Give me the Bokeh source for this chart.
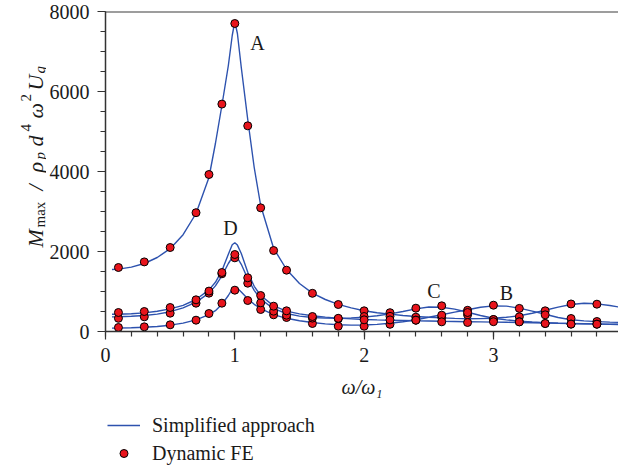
import math
from bokeh.plotting import figure
from bokeh.layouts import row, column
from bokeh.models import Range1d, Legend, LegendItem, Label, FixedTicker, Span
from bokeh.core.properties import value
from bokeh.embed import file_html
from bokeh.resources import INLINE

# ---------------- data ----------------
x_curve = [0.05, 0.1, 0.2, 0.3, 0.4, 0.5, 0.6, 0.7, 0.8, 0.85, 0.9, 0.95, 0.98, 1.0,
           1.02, 1.05, 1.1, 1.15, 1.2, 1.3, 1.4, 1.5, 1.6, 1.7, 1.8, 1.9, 2.0, 2.1, 2.2,
           2.3, 2.4, 2.5, 2.6, 2.7, 2.8, 2.9, 3.0, 3.1, 3.2, 3.3, 3.4, 3.5, 3.6, 3.7,
           3.8, 3.9, 4.0]
curve_A = [1550, 1560, 1610, 1700, 1850, 2070, 2420, 2950, 3850, 4700, 5650, 6650, 7400, 7750,
           7450, 6600, 5300, 4100, 3150, 2080, 1550, 1200, 960, 800, 680, 590, 520, 470, 435,
           400, 375, 355, 340, 328, 320, 322, 332, 355, 395, 455, 530, 610, 675, 705,
           692, 650, 595]
curve_D = [430, 432, 445, 465, 505, 565, 655, 800, 1040, 1230, 1520, 1930, 2170, 2220,
           2160, 1950, 1480, 1130, 900, 640, 510, 440, 395, 360, 335, 315, 300, 290, 282,
           275, 268, 262, 255, 250, 245, 240, 235, 230, 225, 218, 212, 205, 200, 195,
           190, 185, 180]
curve_C = [365, 368, 380, 400, 435, 495, 590, 735, 960, 1140, 1390, 1700, 1850, 1880,
           1840, 1680, 1320, 1030, 810, 570, 450, 385, 350, 335, 330, 338, 360, 395, 440,
           500, 565, 612, 606, 560, 480, 400, 330, 290, 260, 238, 222, 210, 200, 192,
           185, 178, 172]
curve_B = [85, 88, 95, 105, 125, 158, 210, 290, 420, 520, 680, 900, 1060, 1110,
           1080, 990, 820, 680, 570, 420, 330, 270, 225, 190, 170, 160, 162, 178, 205,
           245, 295, 355, 420, 485, 545, 605, 640, 635, 585, 510, 430, 350, 295, 265,
           248, 235, 225]

x_fe = [0.1, 0.3, 0.5, 0.7, 0.8, 0.9, 1.0, 1.1, 1.2, 1.3, 1.4, 1.6, 1.8, 2.0, 2.2, 2.4,
        2.6, 2.8, 3.0, 3.2, 3.4, 3.6, 3.8]
fe_A = [1600, 1740, 2100, 2970, 3925, 5685, 7700, 5142, 3092, 2025, 1533, 955, 675, 517,
        470, 358, 355, 417, 300, 367, 517, 688, 683]
fe_D = [475, 500, 600, 792, 1010, 1475, 1925, 1342, 900, 633, 517, 375, 330, 292,
        290, 283, 242, 225, 245, 240, 200, 185, 183]
fe_C = [330, 367, 458, 708, 958, 1442, 1842, 1208, 717, 508, 408, 335, 318, 375,
        380, 583, 642, 475, 300, 245, 200, 185, 183]
fe_B = [100, 117, 167, 283, 450, 708, 1033, 775, 550, 417, 350, 200, 133, 133,
        180, 283, 408, 530, 658, 578, 417, 325, 250]

curve_names = ["A", "B", "C", "D"]
name_x = [1.175, 3.10, 2.54, 0.967]
name_y = [7217, 975, 1017, 2592]

x_ticks = [0, 1, 2, 3, 4]
y_ticks = [0, 2000, 4000, 6000, 8000]
x_label = "ω/ω₁"
legend_labels = ["Simplified approach", "Dynamic FE"]

# y-axis label pieces: text, size, style, baseline shift (px), start position (px from top)
y_label_parts = [
    ("M", "22px", "italic", 0, 247),
    ("max", "15px", "normal", 4, 227),
    ("/", "22px", "italic", 0, 190),
    ("ρ", "22px", "italic", 0, 172),
    ("p", "15px", "italic", 4, 159),
    ("d", "22px", "italic", 0, 146),
    ("4", "15px", "normal", -10, 131),
    ("ω", "22px", "italic", 0, 118),
    ("2", "15px", "normal", -10, 101),
    ("U", "22px", "italic", 0, 90),
    ("g", "15px", "italic", 4, 73),
]

# ---------------- styling ----------------
SERIF = "Liberation Serif"
LINE_COL = "#2d52ae"
DOT_COL = "#e8141c"
AX_COL = "#333333"
TXT_COL = "#1a1a1a"
LAB_W = 46
TOP_H = 405
LEG_H = 470 - TOP_H
FR_TOP, FR_BOT = 11, 331          # frame edges in page pixels
Y0, Y1 = 0, 8000
NAN = float("nan")


def bare(fig):
    fig.outline_line_color = None
    fig.xgrid.visible = False
    fig.ygrid.visible = False
    return fig


y_rng = Range1d(Y0, Y1)

# main chart
p = bare(figure(width=618 - LAB_W, height=TOP_H, output_backend="svg", toolbar_location=None,
                x_range=Range1d(0, 3.967), y_range=y_rng,
                min_border_left=105 - LAB_W, min_border_right=0, min_border_top=FR_TOP,
                min_border_bottom=TOP_H - FR_BOT))

# narrow figure carrying the rotated y-axis label; same vertical frame as the chart
lab = bare(figure(width=LAB_W, height=TOP_H, output_backend="svg", toolbar_location=None,
                  title=None, x_range=Range1d(0, LAB_W), y_range=y_rng,
                  x_axis_location=None, y_axis_location=None,
                  min_border_left=0, min_border_right=0, min_border_top=FR_TOP,
                  min_border_bottom=TOP_H - FR_BOT))
px_to_val = (Y1 - Y0) / (FR_BOT - FR_TOP)
for txt, fs, st, dx, py in y_label_parts:
    lab.text(x=[35 + dx], y=[(FR_BOT - py) * px_to_val], text=[txt], angle=math.pi / 2,
             text_font=value(SERIF), text_font_size=value(fs), text_font_style=st,
             text_align="left", text_baseline="alphabetic", text_color=TXT_COL)

for ys in (curve_A, curve_B, curve_C, curve_D):
    p.line(x_curve, ys, line_color=LINE_COL, line_width=1.4)
for ys in (fe_A, fe_B, fe_C, fe_D):
    p.scatter(x_fe, ys, size=8, fill_color=DOT_COL, line_color="black", line_width=1)

p.add_layout(Span(location=Y1, dimension="width", line_color="#3c3c3c", line_width=2))

for ax in (p.xaxis[0], p.yaxis[0]):
    ax.axis_line_color = AX_COL
    ax.axis_line_width = 1.5
    ax.major_tick_line_color = AX_COL
    ax.minor_tick_line_color = AX_COL
    ax.major_tick_line_width = 1.2
    ax.minor_tick_line_width = 1.2
    ax.major_tick_in = 0
    ax.major_tick_out = 8
    ax.minor_tick_in = 0
    ax.minor_tick_out = 5
    ax.major_label_text_font = SERIF
    ax.major_label_text_font_size = "20px"
    ax.major_label_text_color = TXT_COL

p.xaxis.ticker = FixedTicker(ticks=x_ticks, minor_ticks=[i * 0.2 for i in range(21)])
p.yaxis.ticker = FixedTicker(ticks=y_ticks, minor_ticks=[i * 500 for i in range(17)])
p.xaxis.major_label_standoff = 8
p.yaxis.major_label_standoff = 8

p.xaxis.axis_label = x_label
p.xaxis.axis_label_text_font = SERIF
p.xaxis.axis_label_text_font_style = "italic"
p.xaxis.axis_label_text_font_size = "20px"
p.xaxis.axis_label_standoff = 11
p.xaxis.axis_label_text_color = TXT_COL

for t, xx, yy in zip(curve_names, name_x, name_y):
    p.add_layout(Label(x=xx, y=yy, text=t, text_font=SERIF, text_font_size="20px",
                       text_align="center", text_baseline="middle", text_color=TXT_COL))

# legend strip below the chart (key glyphs hold no visible data)
leg = bare(figure(width=618, height=LEG_H, output_backend="svg", toolbar_location=None,
                  title=None, x_range=Range1d(0, 618), y_range=Range1d(LEG_H, 0),
                  x_axis_location=None, y_axis_location=None, min_border=0))
k_line = leg.line(x=[NAN, NAN], y=[NAN, NAN], line_color=LINE_COL, line_width=1.4)
k_dot = leg.scatter(x=[NAN], y=[NAN], size=8, fill_color=DOT_COL, line_color="black",
                    line_width=1)
legend = Legend(items=[LegendItem(label=legend_labels[0], renderers=[k_line]),
                       LegendItem(label=legend_labels[1], renderers=[k_dot])],
                location=(107, 3), orientation="vertical")
legend.background_fill_alpha = 0
legend.border_line_color = None
legend.padding = 0
legend.margin = 0
legend.spacing = 0
legend.label_height = 28
legend.glyph_height = 20
legend.glyph_width = 33
legend.label_standoff = 12
legend.label_text_font = SERIF
legend.label_text_font_size = "20px"
legend.label_text_color = TXT_COL
leg.add_layout(legend, "center")

layout = column(row(lab, p, spacing=0), leg, spacing=0)
open("out.html", "w").write(file_html(layout, INLINE))
